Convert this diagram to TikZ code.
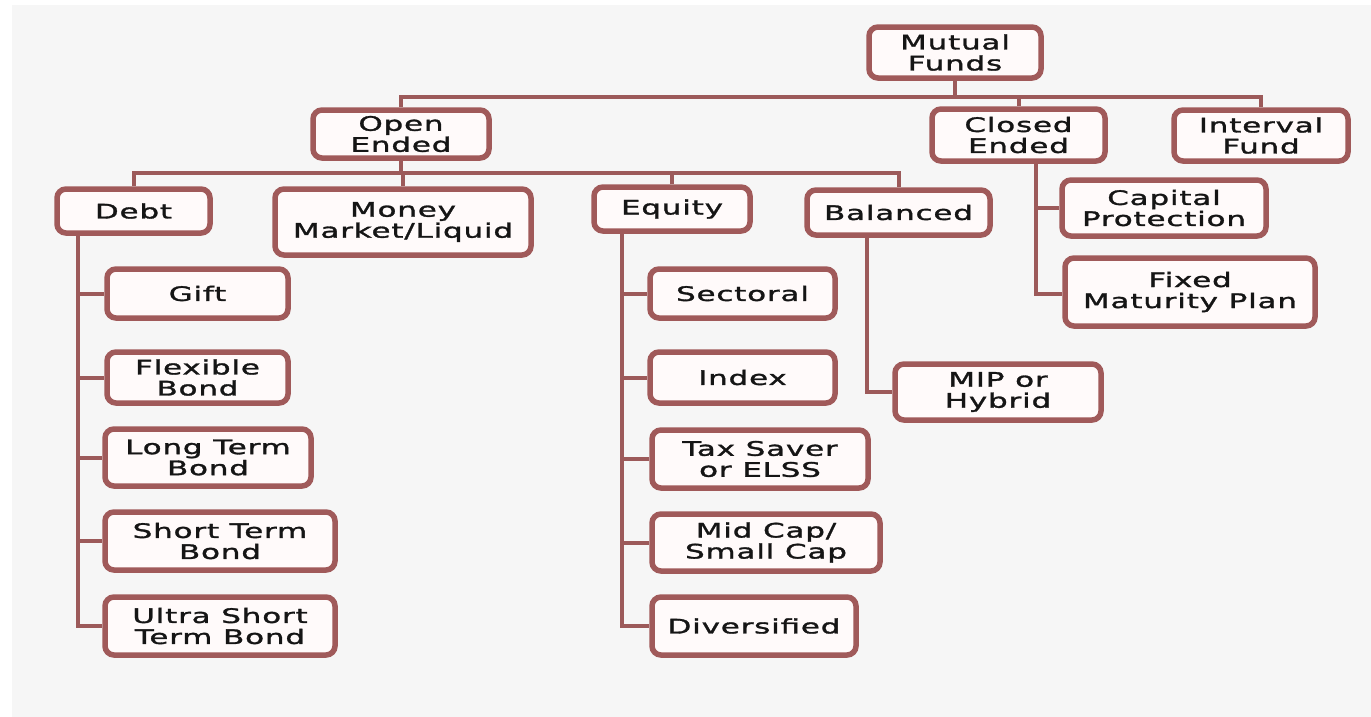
\documentclass[tikz,border=0pt]{standalone}
\usepackage{fontspec}
\usetikzlibrary{backgrounds}
\newfontfamily\boxfont[FakeStretch=1.55,LetterSpace=4,FakeBold=1.5]{DejaVu Sans}
\definecolor{bgc}{HTML}{F6F6F6}
\definecolor{brd}{HTML}{A05A5A}
\definecolor{lnc}{HTML}{9C5A5A}
\definecolor{fillc}{HTML}{FFFAFA}
\definecolor{txt}{HTML}{151515}
\tikzset{
  fbox/.style={draw=brd, line width=5.5pt, fill=fillc, rounded corners=9pt,
    align=center, inner sep=0pt, text=txt,
    font=\boxfont\fontsize{20}{21}\selectfont},
  conn/.style={draw=lnc, line width=4pt}
}
\begin{document}
\begin{tikzpicture}[x=1pt,y=-1pt]
\useasboundingbox (0,0) rectangle (1371,716);

% level 0-1
\node[fbox, minimum width=172pt, minimum height=51pt] (mf) at (955,52.5) {Mutual\\Funds};
\node[fbox, minimum width=176pt, minimum height=48pt] (open) at (401,134) {Open\\Ended};
\node[fbox, minimum width=173pt, minimum height=52pt] (closed) at (1018.5,135) {Closed\\Ended};
\node[fbox, minimum width=174pt, minimum height=51pt] (interval) at (1261,135.5) {Interval\\Fund};

% level 2
\node[fbox, minimum width=153pt, minimum height=44pt] (debt) at (133.5,211) {Debt};
\node[fbox, minimum width=256pt, minimum height=66pt] (mm) at (403,222) {Money\\Market/Liquid};
\node[fbox, minimum width=156pt, minimum height=44pt] (equity) at (672,209) {Equity};
\node[fbox, minimum width=183pt, minimum height=45pt] (balanced) at (898.5,212.5) {Balanced};

% debt children
\node[fbox, minimum width=181pt, minimum height=49pt] (gift) at (197.5,293.5) {Gift};
\node[fbox, minimum width=181pt, minimum height=51pt] (flex) at (197.5,377.5) {Flexible\\Bond};
\node[fbox, minimum width=206pt, minimum height=57pt] (long) at (208,457.5) {Long Term\\Bond};
\node[fbox, minimum width=230pt, minimum height=58pt] (short) at (220,541) {Short Term\\Bond};
\node[fbox, minimum width=230pt, minimum height=58pt] (ultra) at (220,626) {Ultra Short\\Term Bond};

% equity children
\node[fbox, minimum width=185pt, minimum height=49pt] (sect) at (742.5,293.5) {Sectoral};
\node[fbox, minimum width=185pt, minimum height=51pt] (index) at (742.5,377.5) {Index};
\node[fbox, minimum width=216pt, minimum height=58pt] (tax) at (760,459) {Tax Saver\\or ELSS};
\node[fbox, minimum width=228pt, minimum height=57pt] (mid) at (766,542.5) {Mid Cap/\\Small Cap};
\node[fbox, minimum width=204pt, minimum height=58pt] (div) at (754,626) {Diversified};

% balanced child
\node[fbox, minimum width=206pt, minimum height=56pt] (mip) at (998,392) {MIP or\\Hybrid};

% closed children
\node[fbox, minimum width=204pt, minimum height=56pt] (cap) at (1164,208) {Capital\\Protection};
\node[fbox, minimum width=250pt, minimum height=68pt] (fixed) at (1190,292) {Fixed\\Maturity Plan};

\begin{pgfonlayer}{background}
\fill[white] (-10,-10) rectangle (1390,730);
\fill[bgc] (12,5) rectangle (1390,730);

\coordinate (b1) at (0,97);
\coordinate (b2) at (0,173);
\draw[conn] (mf.south) -- (mf.south |- b1);
\draw[conn] (open.north) -- (open.north |- b1) -- (interval.north |- b1) -- (interval.north);
\draw[conn] (closed.north) -- (closed.north |- b1);

\draw[conn] (open.south) -- (open.south |- b2);
\draw[conn] (debt.north) -- (debt.north |- b2) -- (balanced.north |- b2) -- (balanced.north);
\draw[conn] (mm.north) -- (mm.north |- b2);
\draw[conn] (equity.north) -- (equity.north |- b2);

% debt tree
\coordinate (dv) at ([xshift=24pt]debt.south west);
\draw[conn] (dv) |- (ultra.west);
\foreach \n in {gift,flex,long,short}{\draw[conn] (dv |- \n.west) -- (\n.west);}

% equity tree
\coordinate (ev) at ([xshift=31pt]equity.south west);
\draw[conn] (ev) |- (div.west);
\foreach \n in {sect,index,tax,mid}{\draw[conn] (ev |- \n.west) -- (\n.west);}

% balanced
\coordinate (bv) at ([xshift=63pt]balanced.south west);
\draw[conn] (bv) |- (mip.west);

% closed
\coordinate (cv) at ([xshift=107pt]closed.south west);
\draw[conn] (cv) |- ([yshift=-2pt]fixed.west);
\draw[conn] (cv |- cap.west) -- (cap.west);
\end{pgfonlayer}
\end{tikzpicture}
\end{document}
